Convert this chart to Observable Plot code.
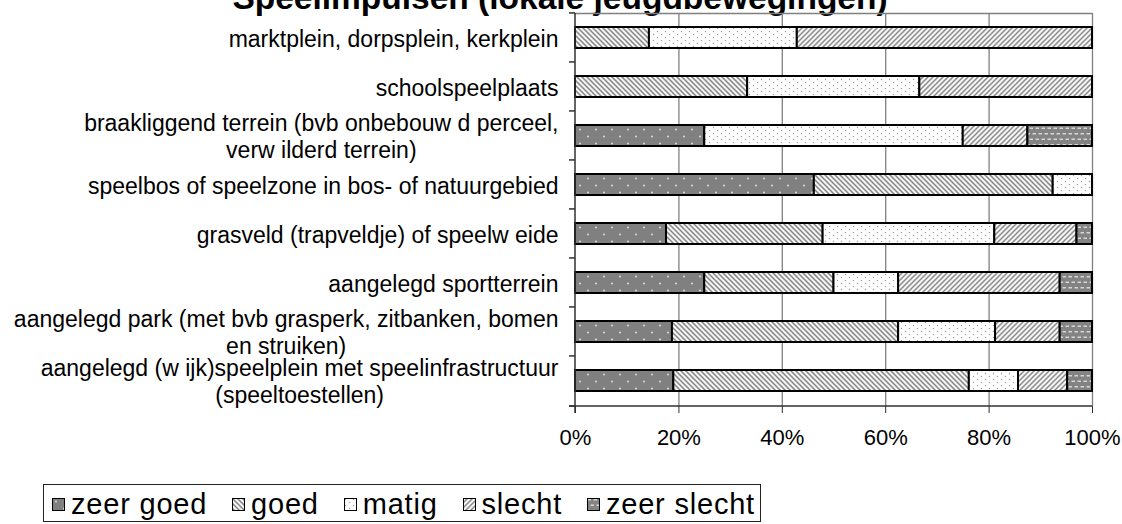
<!DOCTYPE html>
<html>
<head>
<meta charset="utf-8">
<script src="https://cdn.jsdelivr.net/npm/d3@7"></script>
<script src="https://cdn.jsdelivr.net/npm/@observablehq/plot@0.6"></script>
<style>
  html, body { margin: 0; padding: 0; background: #fff; }
  #wrap { position: relative; width: 1122px; height: 524px; overflow: hidden; background: #fff;
          font-family: "Liberation Sans", Arial, sans-serif; color: #000; }
  #title { position: absolute; left: 0; width: 1120px; top: -19px; text-align: center;
           font-weight: bold; font-size: 33.5px; line-height: 33px; white-space: nowrap; }
  #chart { position: absolute; left: 0; top: 0; }
  #legend { position: absolute; left: 43px; top: 484px; width: 718px; height: 38px; box-sizing: border-box;
            border: 1px solid #222; display: flex; align-items: center; justify-content: space-between;
            padding-left: 8px; padding-right: 5px; padding-top: 3px;
            font-size: 29px; letter-spacing: 0.8px; white-space: nowrap; }
  #legend .item { display: flex; align-items: center; }
  #legend svg { margin-right: 6px; }
</style>
</head>
<body>
<svg width="0" height="0" style="position:absolute">
  <defs>
    <pattern id="pat0" patternUnits="userSpaceOnUse" width="16" height="14">
      <rect width="16" height="14" fill="#808080"/>
      <circle cx="4" cy="3.5" r="0.9" fill="#e8e8e8"/>
      <circle cx="12" cy="10.5" r="0.9" fill="#e8e8e8"/>
    </pattern>
    <pattern id="pat1" patternUnits="userSpaceOnUse" width="5" height="5">
      <rect width="5" height="5" fill="#f4f4f4"/>
      <path d="M0,0L5,5M-1,4L1,6M4,-1L6,1" stroke="#858585" stroke-width="1.5"/>
    </pattern>
    <pattern id="pat2" patternUnits="userSpaceOnUse" width="8" height="6">
      <rect width="8" height="6" fill="#ffffff"/>
      <circle cx="1.5" cy="1.5" r="0.7" fill="#9a9a9a"/>
      <circle cx="5.5" cy="4.5" r="0.7" fill="#9a9a9a"/>
    </pattern>
    <pattern id="pat3" patternUnits="userSpaceOnUse" width="5" height="5">
      <rect width="5" height="5" fill="#f4f4f4"/>
      <path d="M0,5L5,0M-1,1L1,-1M4,6L6,4" stroke="#8c8c8c" stroke-width="1.5"/>
    </pattern>
    <pattern id="pat4" patternUnits="userSpaceOnUse" width="6" height="11">
      <rect width="6" height="11" fill="#838383"/>
      <rect x="0.5" y="1" width="3.5" height="1.5" fill="#d6d6d6"/>
      <rect x="3.5" y="6.5" width="3.5" height="1.5" fill="#d6d6d6"/>
      <rect x="-2.5" y="6.5" width="3.5" height="1.5" fill="#d6d6d6"/>
    </pattern>
  </defs>
</svg>
<div id="wrap">
  <div id="title">Speelimpulsen (lokale jeugdbewegingen)</div>
  <div id="chart"></div>
  <div id="legend"></div>
</div>
<script>
// ---- data ----
const categories = [
  "marktplein, dorpsplein, kerkplein",
  "schoolspeelplaats",
  "braakliggend terrein (bvb onbebouw d perceel,\nverw ilderd terrein)",
  "speelbos of speelzone in bos- of natuurgebied",
  "grasveld (trapveldje) of speelw eide",
  "aangelegd sportterrein",
  "aangelegd park (met bvb grasperk, zitbanken, bomen\nen struiken)",
  "aangelegd (w ijk)speelplein met speelinfrastructuur\n(speeltoestellen)"
];
const levels = ["zeer goed", "goed", "matig", "slecht", "zeer slecht"];
const zeerGoed   = [0,    0,    25,   46.2, 17.6, 25,    18.75, 19.0];
const goed       = [14.3, 33.3, 0,    46.2, 30.3, 25,    43.75, 57.1];
const matig      = [28.6, 33.3, 50,   7.6,  33.2, 12.5,  18.75, 9.5];
const slecht     = [57.1, 33.4, 12.5, 0,    15.9, 31.25, 12.5,  9.5];
const zeerSlecht = [0,    0,    12.5, 0,    3.0,  6.25,  6.25,  4.8];
const xTicks = [0, 0.2, 0.4, 0.6, 0.8, 1];

// ---- build table ----
const series = [zeerGoed, goed, matig, slecht, zeerSlecht];
const table = [];
categories.forEach((c, i) => {
  levels.forEach((l, j) => {
    if (series[j][i] > 0) table.push({category: c, level: l, value: series[j][i]});
  });
});
const patterns = levels.map((_, i) => `url(#pat${i})`);

function axisLines(index, scales, values, dims) {
  const x = scales.x, y = scales.y;
  const top = dims.marginTop, bottom = dims.height - dims.marginBottom;
  const x0 = x(0), x1 = x(1);
  const n = categories.length;
  const step = (bottom - top) / n;
  const bw = y.bandwidth ? y.bandwidth() : 0;
  const g = d3.create("svg:g");
  g.append("line").attr("x1", x0).attr("x2", x1).attr("y1", top + 0.5).attr("y2", top + 0.5)
    .attr("stroke", "#808080").attr("stroke-width", 1.5);
  const bounds = categories.map(c => y(c) + bw / 2 - step / 2).concat([bottom]);
  bounds.forEach(b => g.append("line").attr("x1", x0 - 6).attr("x2", x0).attr("y1", b).attr("y2", b)
    .attr("stroke", "#303030").attr("stroke-width", 1.5));
  g.append("line").attr("x1", x0).attr("x2", x0).attr("y1", top).attr("y2", bottom + 7)
    .attr("stroke", "#303030").attr("stroke-width", 1.5);
  g.append("line").attr("x1", x0 - 6).attr("x2", x1).attr("y1", bottom).attr("y2", bottom)
    .attr("stroke", "#303030").attr("stroke-width", 1.5);
  return g.node();
}

const svg = Plot.plot({
  width: 1122,
  height: 460,
  marginTop: 13,
  marginBottom: 54,
  marginLeft: 575,
  marginRight: 30,
  style: {fontFamily: "Liberation Sans, Arial, sans-serif", background: "transparent", color: "#000"},
  x: {domain: [0, 1]},
  y: {domain: categories, paddingInner: 0.57, paddingOuter: 0.285},
  color: {domain: levels, range: patterns},
  marks: [
    Plot.ruleX(xTicks.slice(1), {stroke: "#808080", strokeWidth: 1.3}),
    Plot.barX(table, Plot.stackX({
      x: "value", y: "category", fill: "level", offset: "normalize",
      stroke: "#000", strokeWidth: 2
    })),
    Plot.axisX({ticks: xTicks, tickFormat: d3.format(".0%"), tickSize: 7, tickPadding: 16,
                fontSize: 22, label: null, stroke: "#303030"}),
    Plot.axisY({tickSize: 0, tickPadding: 17, fontSize: 23, lineHeight: 1.17, label: null, textAnchor: "end"}),
    axisLines
  ]
});
document.getElementById("chart").append(svg);

// center the lines of multi-line category labels on each other
svg.querySelectorAll("text").forEach(t => {
  const spans = t.querySelectorAll("tspan");
  if (spans.length < 2) return;
  const ws = [...spans].map(s => s.getComputedTextLength());
  const W = Math.max(...ws);
  spans.forEach((s, i) => {
    const x0 = parseFloat(s.getAttribute("x")) || 0;
    s.setAttribute("x", x0 - (W - ws[i]) / 2);
  });
});

// legend
const legend = d3.select("#legend");
levels.forEach((l, i) => {
  const item = legend.append("div").attr("class", "item");
  const sw = item.append("svg").attr("width", 13).attr("height", 13);
  sw.append("rect").attr("x", 0.5).attr("y", 0.5).attr("width", 12).attr("height", 12)
    .attr("fill", patterns[i]).attr("stroke", "#000").attr("stroke-width", 1);
  item.append("span").text(l);
});
</script>
</body>
</html>
